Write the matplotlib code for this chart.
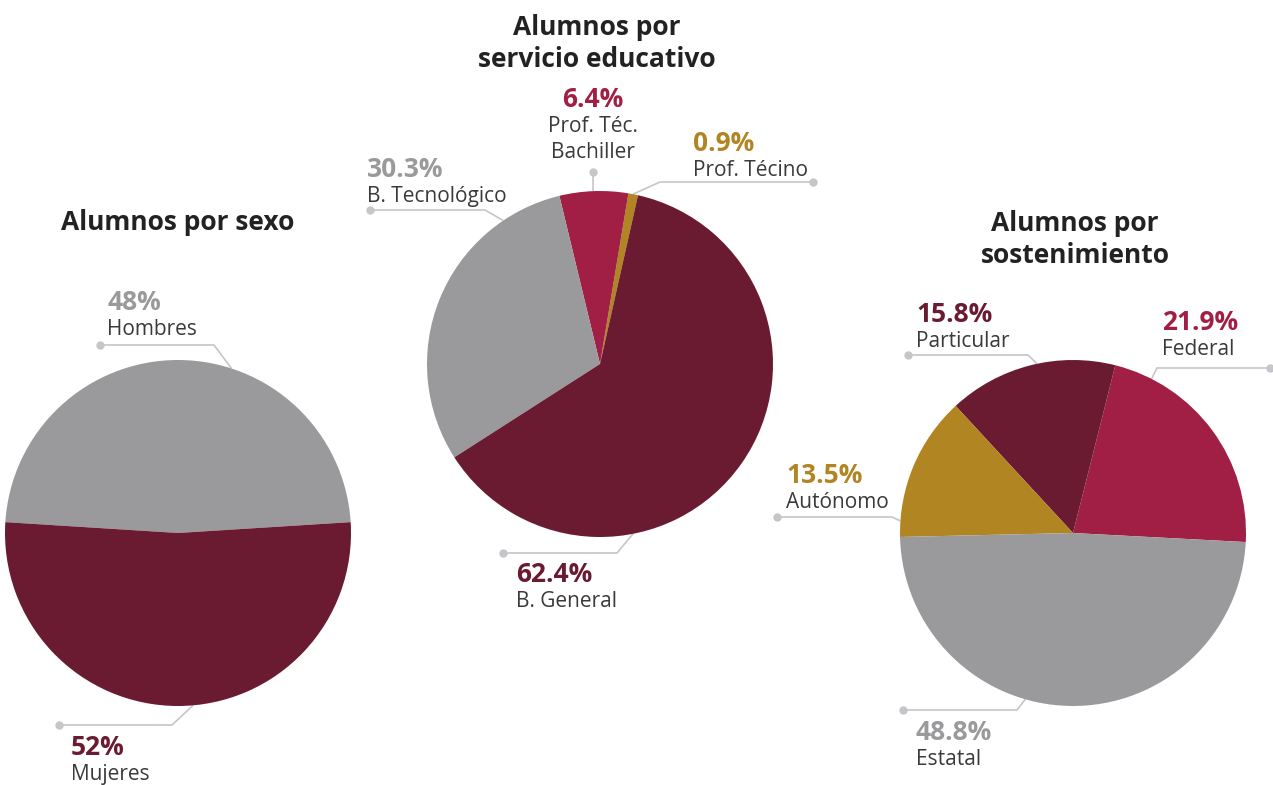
"""Tres pasteles: alumnos por sexo, por servicio educativo y por sostenimiento."""
import numpy as np
import matplotlib
matplotlib.use("Agg")
import matplotlib.pyplot as plt

W, H = 1273, 785

GRAY = "#9a9a9c"
MAROON = "#6a1b31"
CRIMSON = "#a11f44"
GOLD = "#b08522"
LEADER = "#c6c6ca"
TEXT = "#3a3a3a"
TITLE = "#222222"

# --- data ---
sexo_labels = ["Hombres", "Mujeres"]
sexo_values = [48, 52]
sexo_colors = [GRAY, MAROON]

servicio_labels = ["Prof. Técino", "Prof. Téc.\nBachiller", "B. Tecnológico", "B. General"]
servicio_values = [0.9, 6.4, 30.3, 62.4]
servicio_colors = [GOLD, CRIMSON, GRAY, MAROON]

sost_labels = ["Federal", "Particular", "Autónomo", "Estatal"]
sost_values = [21.9, 15.8, 13.5, 48.8]
sost_colors = [CRIMSON, MAROON, GOLD, GRAY]

# --- layout (pixel coords, y from top) ---
R = 173
charts = [
    dict(title="Alumnos por sexo", title_xy=(178, 230), center=(178, 533), start=3.6,
         labels=sexo_labels, values=sexo_values, colors=sexo_colors,
         # text x, pct baseline, ha, dot, elbow, angle on pie
         notes=[(107, 310, "left", (100, 345), (214, 345), 72),
                (71, 755, "left", (59, 725), (172, 725), -85)]),
    dict(title="Alumnos por\nservicio educativo", title_xy=(597, 35), center=(600, 364), start=77.3,
         labels=servicio_labels, values=servicio_values, colors=servicio_colors,
         notes=[(693, 151, "left", (813, 182), (660, 182), 79),
                (593, 107, "center", (593, 172), (593, 172), 92.3),
                (367, 177, "left", (370, 210), (485, 210), 124),
                (516, 582, "left", (503, 553), (617, 553), -79)]),
    dict(title="Alumnos por\nsostenimiento", title_xy=(1075, 231), center=(1073, 533), start=-3,
         labels=sost_labels, values=sost_values, colors=sost_colors,
         notes=[(1162, 330, "left", (1270, 368), (1157, 368), 63),
                (916, 322, "left", (908, 355), (1028, 355), 102),
                (786, 483, "left", (777, 517), (892, 517), 176),
                (916, 740, "left", (903, 710), (1017, 710), -106)]),
]

plt.rcParams["font.family"] = ["Open Sans", "DejaVu Sans"]

fig = plt.figure(figsize=(W / 100, H / 100), dpi=100)
ax = fig.add_axes([0, 0, 1, 1])


def Y(y):
    return H - y


for ch in charts:
    cx, cy = ch["center"]
    ax.pie(ch["values"], colors=ch["colors"], startangle=ch["start"], counterclock=True,
           center=(cx, Y(cy)), radius=R, frame=True,
           wedgeprops=dict(linewidth=0, zorder=2))

    tx, ty = ch["title_xy"]
    for i, line in enumerate(ch["title"].split("\n")):
        ax.text(tx, Y(ty + i * 32), line, ha="center", va="baseline",
                fontsize=19, fontweight="bold", color=TITLE)

    for lab, val, col, (x, yb, ha, dot, elbow, ang) in zip(
            ch["labels"], ch["values"], ch["colors"], ch["notes"]):
        # leader: dot -> elbow -> pie edge (runs under the wedges)
        a = np.deg2rad(ang)
        px, py = cx + R * np.cos(a), cy - R * np.sin(a)
        ax.plot([dot[0], elbow[0], px], [Y(dot[1]), Y(elbow[1]), Y(py)],
                color=LEADER, lw=1.2, zorder=1, solid_capstyle="butt")
        ax.plot(dot[0], Y(dot[1]), "o", ms=5, color=LEADER, zorder=3)
        ax.text(x, Y(yb), f"{val:g}%", ha=ha, va="baseline", fontsize=19,
                fontweight="bold", color=col)
        for i, line in enumerate(lab.split("\n")):
            ax.text(x, Y(yb + 25 + i * 26), line, ha=ha, va="baseline",
                    fontsize=15, color=TEXT)

ax.set_xlim(0, W)
ax.set_ylim(0, H)
ax.set_aspect("auto")
ax.axis("off")

fig.savefig("out.png", dpi=100, facecolor="white")
